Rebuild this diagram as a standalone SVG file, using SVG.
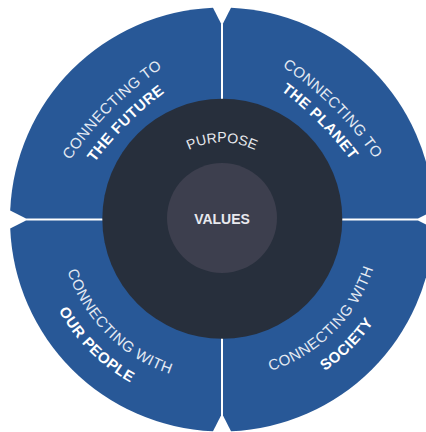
<svg xmlns="http://www.w3.org/2000/svg" width="426" height="432" viewBox="0 0 426 432">
  <style>
    .quad { fill: #285897; }
    .t1 { font-family: "Liberation Sans", Arial, sans-serif; font-size: 15px; fill: #e4eaf3; letter-spacing: 0.5px; }
    .t2 { font-family: "Liberation Sans", Arial, sans-serif; font-size: 15px; font-weight: bold; fill: #ffffff; letter-spacing: 0.5px; }
    .core { font-family: "Liberation Sans", Arial, sans-serif; fill: #e8e9ee; }
  </style>
  <defs>
    <path id="p-tl1" d="M56.42,182.03 A350,350 0 0 1 184.53,53.92"/>
    <path id="p-tl2" d="M71.63,197.24 A350,350 0 0 1 199.74,69.13"/>
    <path id="p-tr1" d="M260.53,52.86 A350,350 0 0 1 388.64,180.97"/>
    <path id="p-tr2" d="M246.03,67.36 A350,350 0 0 1 374.14,195.47"/>
    <path id="p-bl1" d="M59.62,233.71 A163,163 0 0 0 207.79,381.88"/>
    <path id="p-bl2" d="M35.71,235.80 A187,187 0 0 0 205.70,405.79"/>
    <path id="p-br1" d="M235.86,377.89 A159,159 0 0 0 380.39,233.36"/>
    <path id="p-br2" d="M237.95,401.80 A183,183 0 0 0 404.30,235.45"/>
    <path id="p-purpose" d="M155.32,181 A77,77 0 0 1 288.68,181"/>
  </defs>
  <rect width="426" height="432" fill="#ffffff"/>

  <g id="future">
    <path class="quad" d="M221,218.5 L221,23.5 L213,7.69 A212,212 0 0 0 10.19,210.5 L26,218.5 Z"/>
    <text class="t1" text-anchor="middle"><textPath href="#p-tl1" startOffset="50%">CONNECTING TO</textPath></text>
    <text class="t2" text-anchor="middle"><textPath href="#p-tl2" startOffset="50%">THE FUTURE</textPath></text>
  </g>

  <g id="planet">
    <path class="quad" d="M223,218.5 L223,23.5 L231,7.69 A212,212 0 0 1 433.81,210.5 L418,218.5 Z"/>
    <text class="t1" text-anchor="middle"><textPath href="#p-tr1" startOffset="50%">CONNECTING TO</textPath></text>
    <text class="t2" text-anchor="middle"><textPath href="#p-tr2" startOffset="50%">THE PLANET</textPath></text>
  </g>

  <g id="people">
    <path class="quad" d="M221,220.5 L26,220.5 L10.19,228.5 A212,212 0 0 0 213,431.31 L221,415.5 Z"/>
    <text class="t1" text-anchor="middle"><textPath href="#p-bl1" startOffset="50%">CONNECTING WITH</textPath></text>
    <text class="t2" text-anchor="middle"><textPath href="#p-bl2" startOffset="50%">OUR PEOPLE</textPath></text>
  </g>

  <g id="society">
    <path class="quad" d="M223,220.5 L418,220.5 L433.81,228.5 A212,212 0 0 1 231,431.31 L223,415.5 Z"/>
    <text class="t1" text-anchor="middle"><textPath href="#p-br1" startOffset="50%">CONNECTING WITH</textPath></text>
    <text class="t2" text-anchor="middle"><textPath href="#p-br2" startOffset="50%">SOCIETY</textPath></text>
  </g>

  <g id="purpose">
    <circle cx="222.3" cy="218.8" r="120" fill="#272f3c"/>
    <text class="core" font-size="14" text-anchor="middle"><textPath href="#p-purpose" startOffset="50%">PURPOSE</textPath></text>
  </g>

  <g id="values">
    <circle cx="222" cy="218" r="55" fill="#3d3f4e"/>
    <text class="core" x="222" y="224" font-size="14" font-weight="bold" text-anchor="middle">VALUES</text>
  </g>
</svg>
